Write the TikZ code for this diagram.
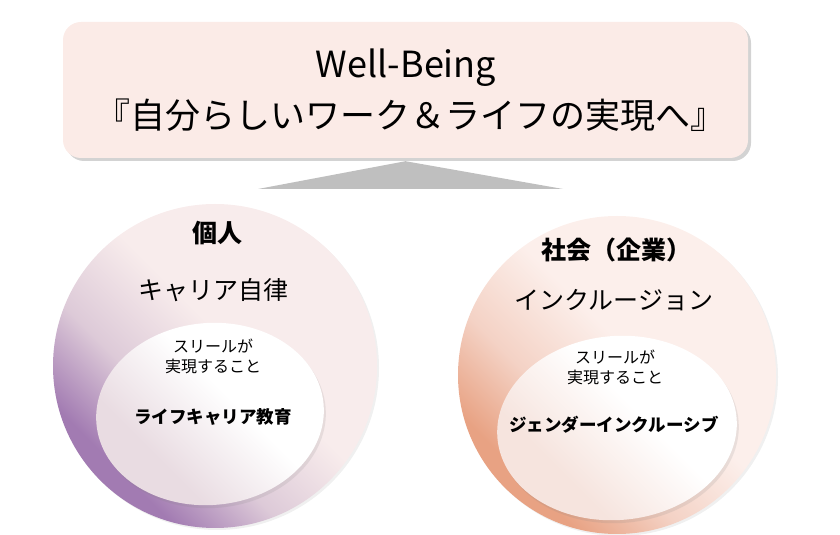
\documentclass[tikz,border=0pt]{standalone}
\usepackage{fontspec}
\setmainfont{Noto Sans CJK JP}
\usetikzlibrary{positioning,shapes.geometric,shadows}

\definecolor{boxpink}{HTML}{FBEBE7}
\definecolor{wedgegray}{HTML}{BFBFBF}
\definecolor{selfdark}{HTML}{A27BB2}
\definecolor{selfmid}{HTML}{DDCAD8}
\definecolor{selflight}{HTML}{F8ECEC}
\definecolor{socdark}{HTML}{E8A283}
\definecolor{socmid}{HTML}{F4D2C5}
\definecolor{soclight}{HTML}{FCEFEB}
\definecolor{selfingray}{HTML}{E9DCE2}
\definecolor{socingray}{HTML}{F6E4DE}

\pgfdeclareverticalshading{selfshade}{100bp}{color(0bp)=(selfdark); color(28bp)=(selfdark); color(40bp)=(selfmid); color(54bp)=(selflight); color(100bp)=(selflight)}
\pgfdeclareverticalshading{socshade}{100bp}{color(0bp)=(socdark); color(28bp)=(socdark); color(40bp)=(socmid); color(54bp)=(soclight); color(100bp)=(soclight)}
\pgfdeclareverticalshading{selfinshade}{100bp}{color(0bp)=(selfingray); color(34bp)=(selfingray); color(56bp)=(white); color(100bp)=(white)}
\pgfdeclareverticalshading{socinshade}{100bp}{color(0bp)=(socingray); color(34bp)=(socingray); color(56bp)=(white); color(100bp)=(white)}

\begin{document}
\begin{tikzpicture}[x=1pt, y=1pt,
  goalbox/.style={rectangle, rounded corners=18pt, fill=boxpink, minimum width=685pt, minimum height=136pt,
    drop shadow={shadow xshift=3pt, shadow yshift=-3pt, opacity=0.35}},
  disc/.style={circle, inner sep=0pt, minimum size=#1, shading angle=-45,
    drop shadow={shadow xshift=2pt, shadow yshift=-2pt, opacity=0.12}},
  inner/.style={ellipse, inner sep=0pt, shading angle=-45, rotate=5,
    drop shadow={shadow xshift=2pt, shadow yshift=-3pt, opacity=0.15}},
  titletext/.style={inner sep=0pt, font=\fontsize{35}{40}\selectfont},
  headtext/.style={inner sep=0pt, font=\fontsize{25}{30}\selectfont\bfseries},
  themetext/.style={inner sep=0pt, font=\fontsize{25}{30}\selectfont},
  notetext/.style={inner sep=0pt, align=center, font=\fontsize{16}{20}\selectfont},
  keytext/.style={inner sep=0pt, font=\fontsize{17.5}{21}\selectfont\bfseries}]
\useasboundingbox (0,0) rectangle (840,535);

% goal box and wedge
\node[goalbox] (Goal) at (405.5,445) {};
\node[titletext, font=\fontsize{36}{40}\selectfont] (WB) at (406,467) {Well-Being};
\node[titletext] (Motto) at (410,420) {『自分らしいワーク＆ライフの実現へ』};
\coordinate (WedgeL) at (258,346);
\coordinate (WedgeR) at (563,346);
\fill[wedgegray] (WedgeL) -- ([yshift=-3pt]Goal.south) -- (WedgeR) -- cycle;

% individual
\node[disc=324pt, shading=selfshade] (Self) at (215,169) {};
\node[inner, shading=selfinshade, minimum width=228pt, minimum height=182pt] (SelfIn) at (210,121) {};
\node[headtext] (SelfHead) at (217,302) {個人};
\node[themetext] (SelfTheme) at (213,245) {キャリア自律};
\node[notetext] (SelfNote) at (213,179) {スリールが\\実現すること};
\node[keytext] (SelfKey) at (213,118) {ライフキャリア教育};

% society
\node[disc=318pt, shading=socshade] (Soc) at (617,160) {};
\node[inner, shading=socinshade, minimum width=240pt, minimum height=184pt] (SocIn) at (617,107) {};
\node[headtext] (SocHead) at (616,285) {社会（企業）};
\node[themetext] (SocTheme) at (614,235) {インクルージョン};
\node[notetext] (SocNote) at (615,168) {スリールが\\実現すること};
\node[keytext] (SocKey) at (614,110) {ジェンダーインクルーシブ};
\end{tikzpicture}
\end{document}
